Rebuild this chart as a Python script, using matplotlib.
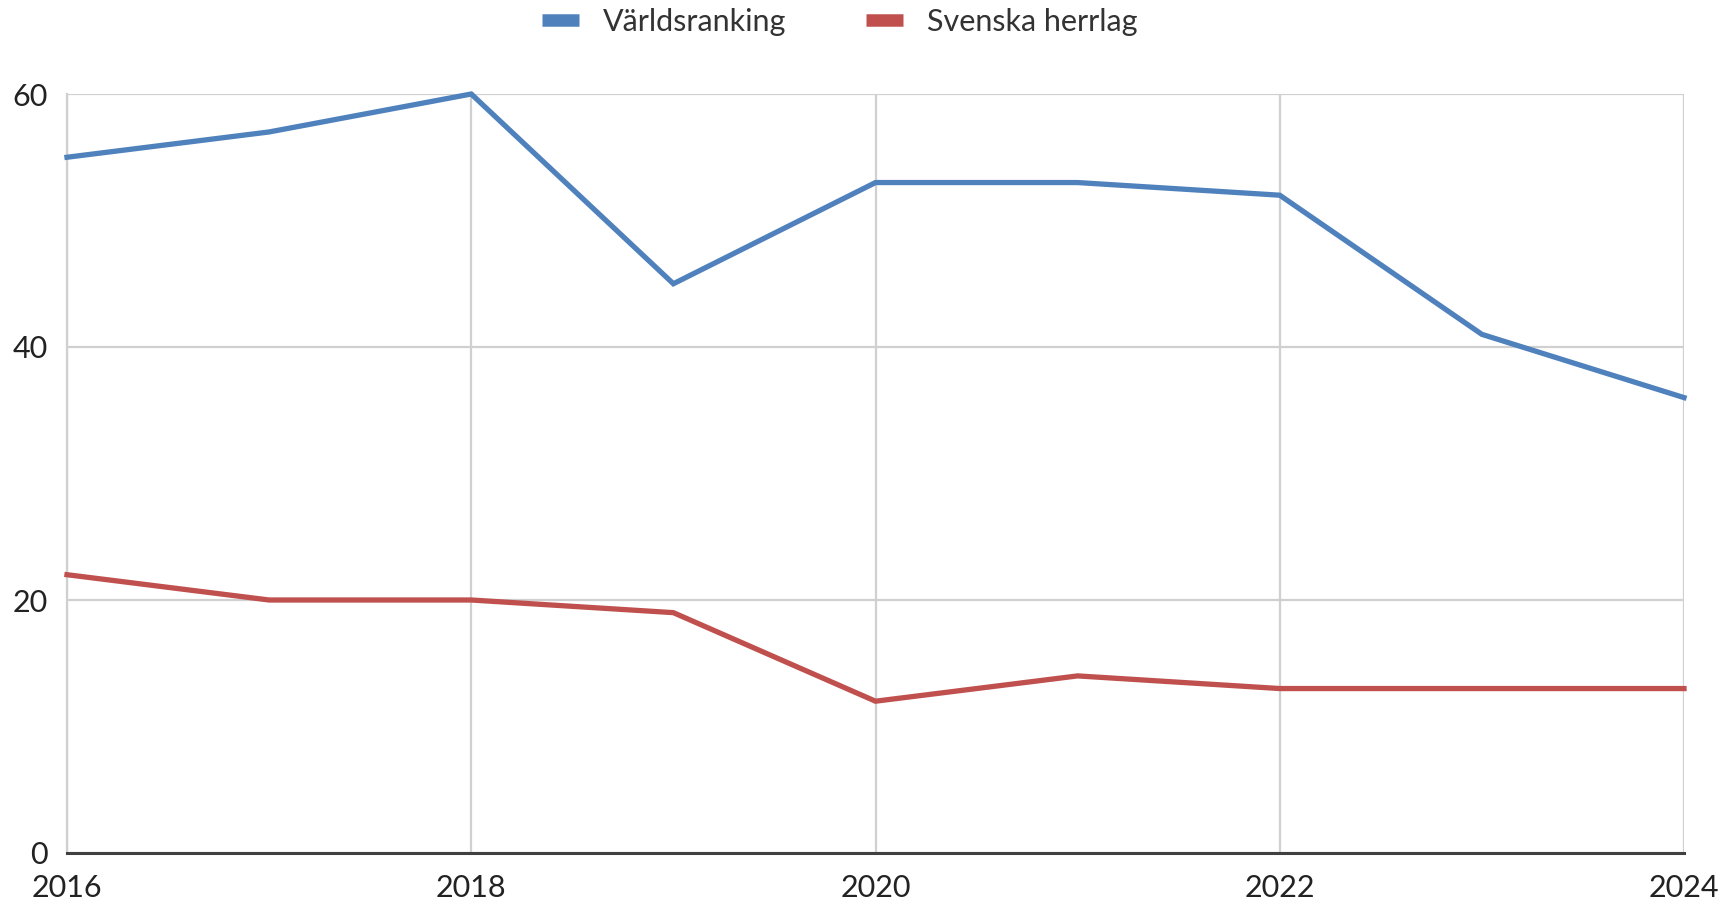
import matplotlib
matplotlib.use("Agg")
import matplotlib.pyplot as plt
from matplotlib.lines import Line2D

years = [2016, 2017, 2018, 2019, 2020, 2021, 2022, 2023, 2024]
varldsranking = [55, 57, 60, 45, 53, 53, 52, 41, 36]
svenska_herrlag = [22, 20, 20, 19, 12, 14, 13, 13, 13]
series_names = ["Världsranking", "Svenska herrlag"]
x_ticks = [2016, 2018, 2020, 2022, 2024]
y_ticks = [0, 20, 40, 60]

plt.rcParams['font.family'] = ['Lato', 'DejaVu Sans']

fig = plt.figure(figsize=(17.35, 9.15), dpi=100)
ax = fig.add_axes([67/1735, 1 - 853/915, (1684-67)/1735, (853-94)/915])

blue = "#4F81BD"
red = "#C0504D"
ax.plot(years, varldsranking, color=blue, lw=3.8, solid_joinstyle='miter', zorder=3, clip_on=False)
ax.plot(years, svenska_herrlag, color=red, lw=3.8, solid_joinstyle='miter', zorder=3, clip_on=False)

ax.set_xlim(2016, 2024)
ax.set_ylim(0, 60)
ax.set_xticks(x_ticks)
ax.set_yticks(y_ticks)
ax.grid(True, color="#D0D0D0", lw=1.6)
ax.set_axisbelow(True)
for s in ["top", "right"]:
    ax.spines[s].set_visible(False)
ax.spines["left"].set_color("#D0D0D0")
ax.spines["left"].set_linewidth(1.6)
ax.spines["bottom"].set_color("#404040")
ax.spines["bottom"].set_linewidth(2.2)
ax.tick_params(axis='both', length=0, labelsize=22, labelcolor="#222222")
ax.tick_params(axis='x', pad=15)
ax.tick_params(axis='y', pad=14)

handles = [Line2D([0], [0], color=blue, lw=9, solid_capstyle='butt'),
           Line2D([0], [0], color=red, lw=9, solid_capstyle='butt')]
fig.legend(handles, series_names, loc='center', bbox_to_anchor=(0.484, 1 - 22/915),
           ncol=2, frameon=False, fontsize=22, handlelength=1.2, columnspacing=2.6,
           handletextpad=0.8, labelcolor="#333333")

fig.savefig("out.png", dpi=100)
